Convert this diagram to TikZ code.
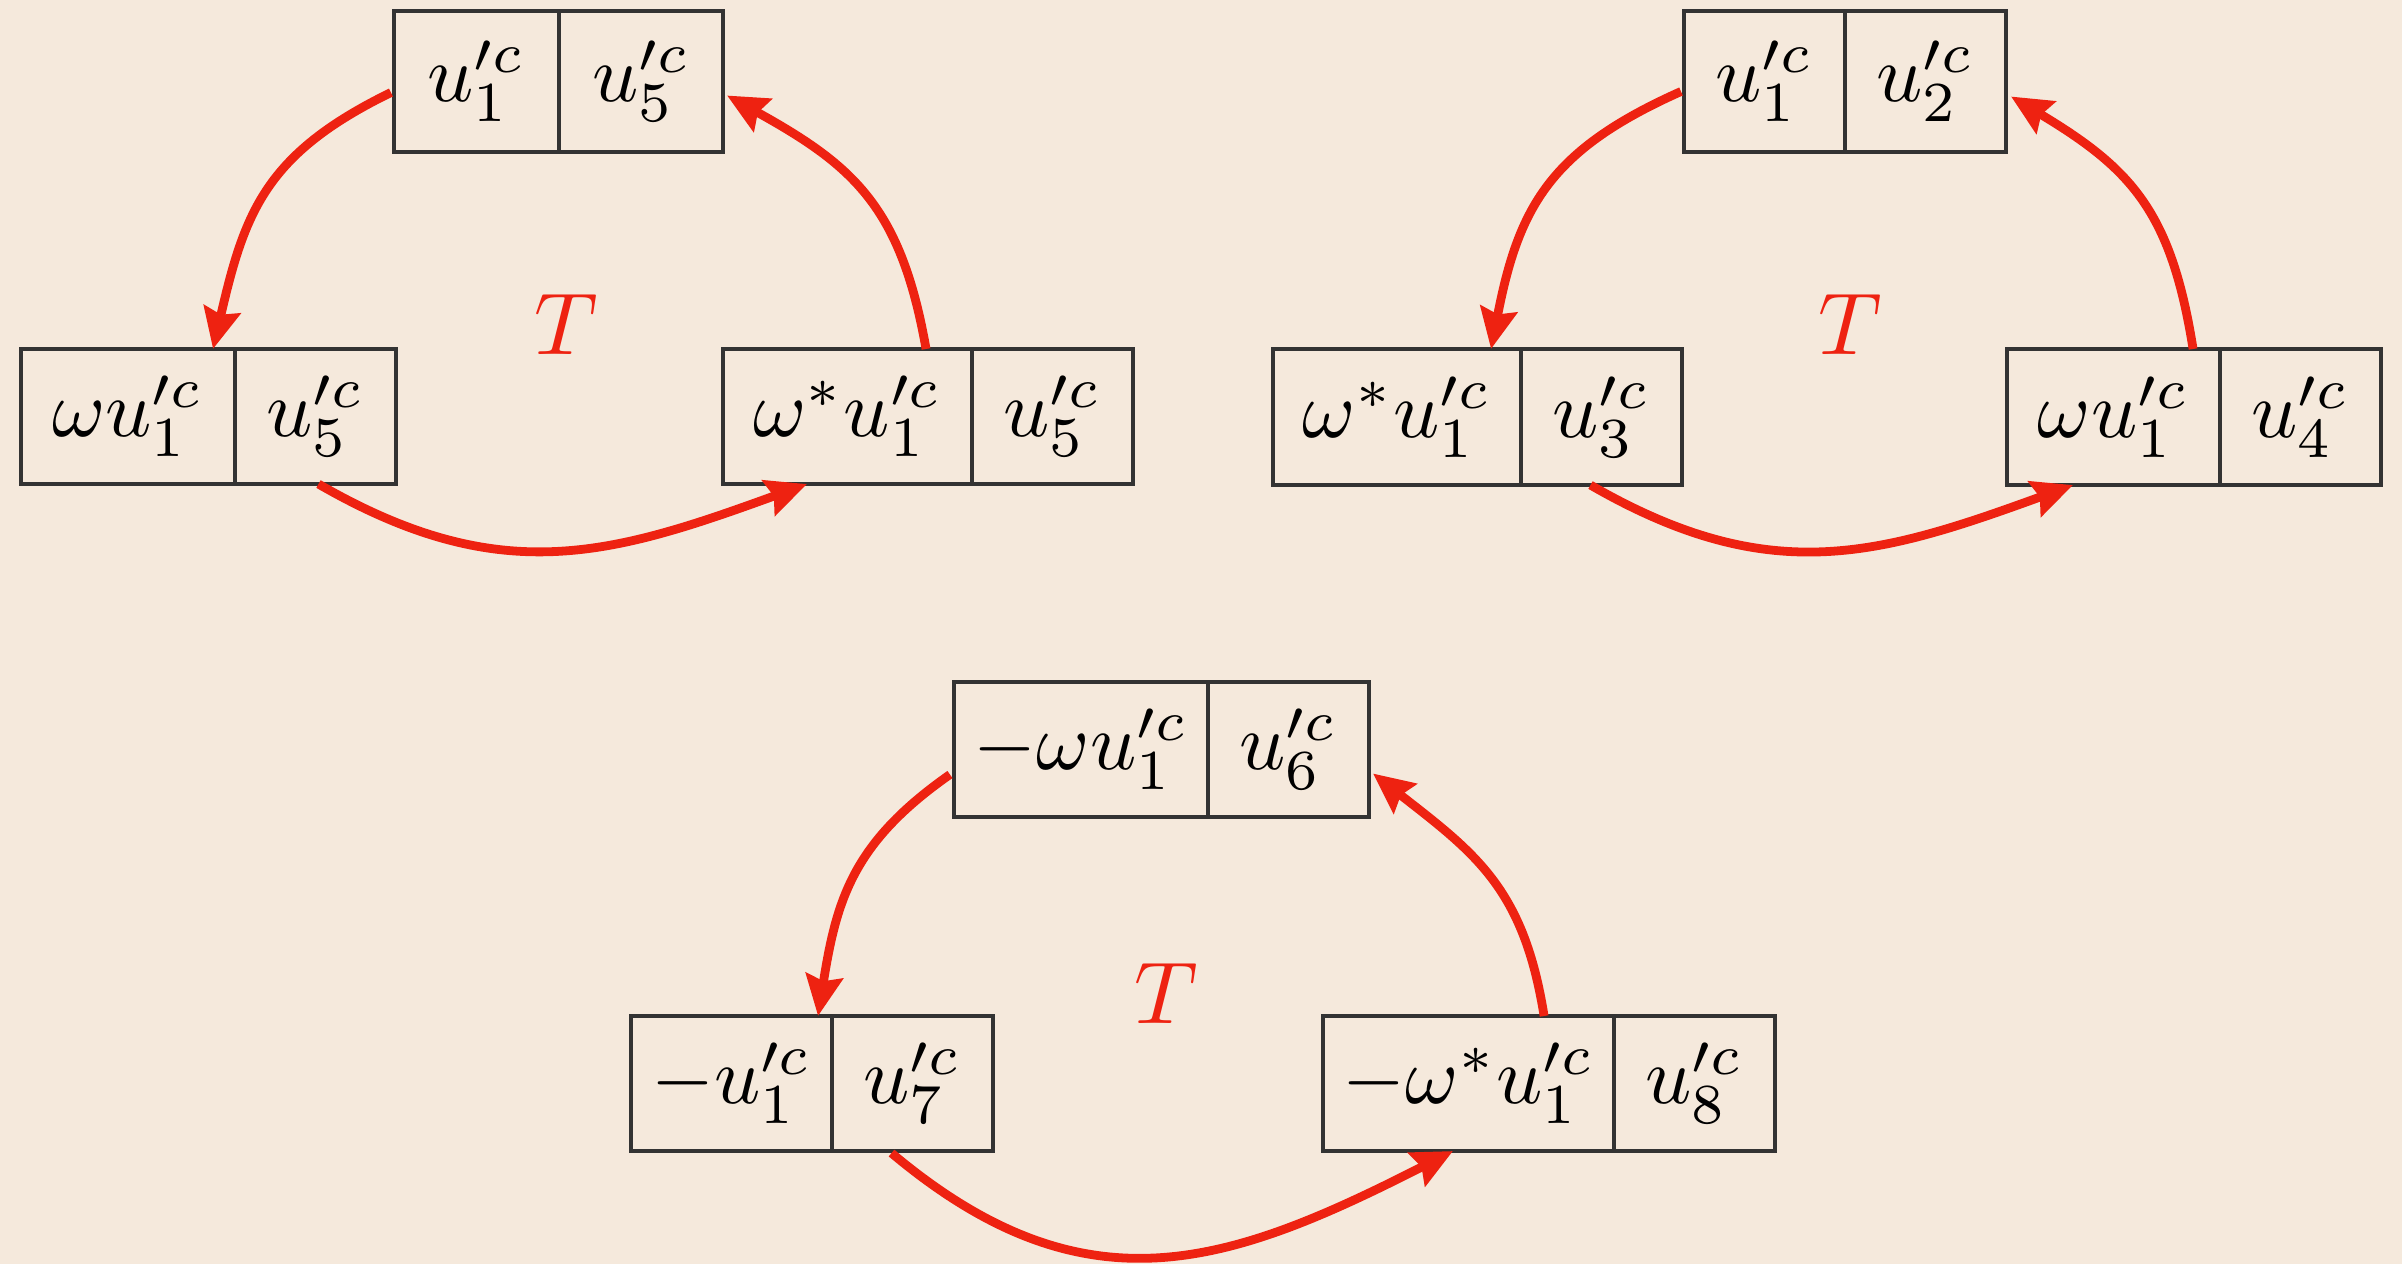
\documentclass[tikz,border=0pt]{standalone}
\usepackage{graphicx}
\usetikzlibrary{arrows.meta,calc}
\definecolor{paper}{HTML}{F5E9DC}
\definecolor{flowred}{HTML}{EE2211}
\definecolor{rule}{HTML}{333333}
\tikzset{
  cell/.style={draw=rule, line width=0.45pt, inner sep=0pt, outer sep=0pt, rectangle},
  flow/.style={draw=flowred, line width=1pt, -{Stealth[length=4.6pt,width=4.2pt,inset=0.6pt]}},
  oplabel/.style={text=flowred, inner sep=0pt}
}
% one table cell: name, left, top, right, bottom, content
\newcommand\cellbox[6]{%
  \node[cell, minimum width={(#4-#2)*0.04mm}, minimum height={(#5-#3)*0.04mm}]
    (#1) at ({(#2+#4)/2},{(#3+#5)/2}) {\scalebox{0.92}{#6}};}
\begin{document}
\begin{tikzpicture}[x=0.004cm, y=-0.004cm]
\path[use as bounding box, fill=paper] (0,0) rectangle (2402,1264);

% ---- first cycle (upper left) ----
\cellbox{a1}{394}{11}{559}{152}{$u_1^{\prime c}$}
\cellbox{a2}{559}{11}{723}{152}{$u_5^{\prime c}$}
\cellbox{b1}{21}{349}{235}{484}{$\omega u_1^{\prime c}$}
\cellbox{b2}{235}{349}{396}{484}{$u_5^{\prime c}$}
\cellbox{c1}{723}{349}{972}{484}{$\omega^* u_1^{\prime c}$}
\cellbox{c2}{972}{349}{1133}{484}{$u_5^{\prime c}$}
\node[oplabel] (t1) at (566,324) {$T$};

\draw[flow] ($(a1.west)+(-3,11)$) to[out=206, in=77, looseness=1.15] ($(b1.north east)+(-22,0)$);
\draw[flow] ($(b2.south)+(3,0)$) to[out=-30, in=200, looseness=1.1] ($(c1.south west)+(84,0)$);
\draw[flow] ($(c1.north east)+(-46,0)$) to[out=100, in=-29, looseness=1.15] ($(a2.east)+(4,14)$);

% ---- second cycle (upper right) ----
\cellbox{d1}{1684}{11}{1845}{152}{$u_1^{\prime c}$}
\cellbox{d2}{1845}{11}{2006}{152}{$u_2^{\prime c}$}
\cellbox{e1}{1273}{349}{1521}{485}{$\omega^* u_1^{\prime c}$}
\cellbox{e2}{1521}{349}{1682}{485}{$u_3^{\prime c}$}
\cellbox{f1}{2007}{349}{2220}{485}{$\omega u_1^{\prime c}$}
\cellbox{f2}{2220}{349}{2381}{485}{$u_4^{\prime c}$}
\node[oplabel] (t2) at (1850,324) {$T$};

\draw[flow] ($(d1.west)+(-3,10)$) to[out=204, in=79, looseness=1.15] ($(e1.north east)+(-30,0)$);
\draw[flow] ($(e2.south)+(-11,0)$) to[out=-30, in=200, looseness=1.1] ($(f1.south west)+(66,0)$);
\draw[flow] ($(f1.north east)+(-27,0)$) to[out=99, in=-31, looseness=1.15] ($(d2.east)+(5,15)$);

% ---- third cycle (bottom) ----
\cellbox{g1}{954}{682}{1208}{817}{$-\omega u_1^{\prime c}$}
\cellbox{g2}{1208}{682}{1369}{817}{$u_6^{\prime c}$}
\cellbox{h1}{631}{1016}{832}{1151}{$-u_1^{\prime c}$}
\cellbox{h2}{832}{1016}{993}{1151}{$u_7^{\prime c}$}
\cellbox{k1}{1323}{1016}{1614}{1151}{$-\omega^* u_1^{\prime c}$}
\cellbox{k2}{1614}{1016}{1775}{1151}{$u_8^{\prime c}$}
\node[oplabel] (t3) at (1166,993) {$T$};

\draw[flow] ($(g1.west)+(-4,25)$) to[out=215, in=81, looseness=1.1] ($(h1.north east)+(-14,0)$);
\draw[flow] ($(h2.south)+(-21,2)$) to[out=-40, in=207, looseness=1.15] ($(k1.south west)+(130,0)$);
\draw[flow] ($(k1.north east)+(-70,0)$) to[out=99, in=-38, looseness=1.12] ($(g2.east)+(4,24)$);
\end{tikzpicture}
\end{document}
